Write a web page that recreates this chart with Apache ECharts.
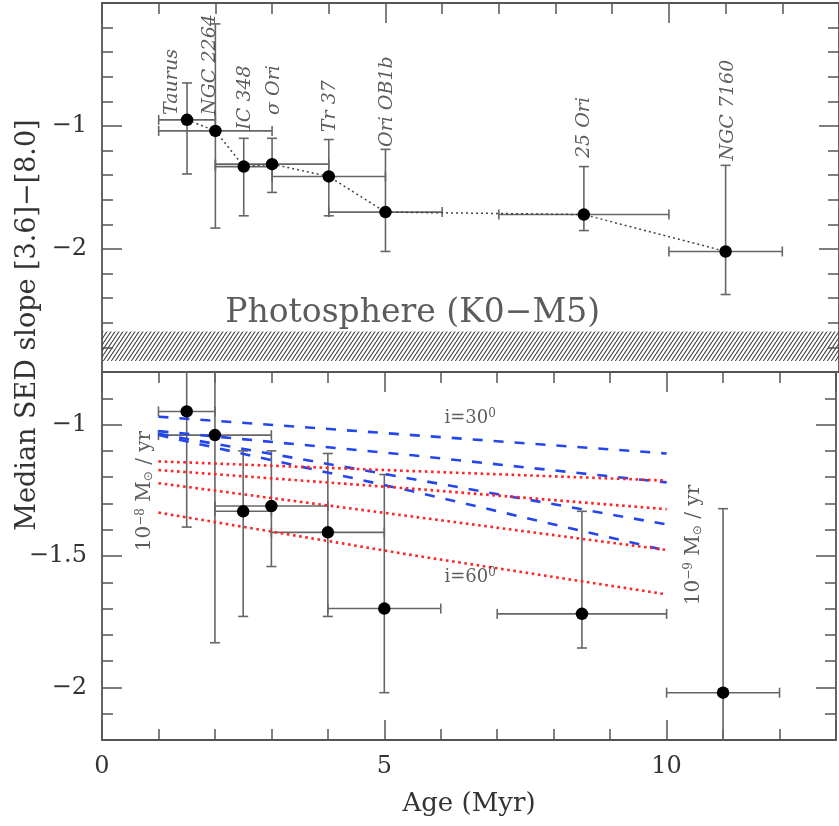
<!DOCTYPE html>
<html>
<head>
<meta charset="utf-8">
<script src="https://cdn.jsdelivr.net/npm/echarts@6/dist/echarts.min.js"></script>
<style>
html, body { margin: 0; background: #fff; }
#rory { width: 839px; height: 826px; }
</style>
</head>
<body>
<div id="rory"></div>
<script>
// clusters, ages (Myr) and median SED slopes
var clusters = ['Taurus', 'NGC 2264', 'IC 348', 'σ Ori', 'Tr 37', 'Ori OB1b', '25 Ori', 'NGC 7160'];
var age     = [1.5, 2, 2.5, 3, 4, 5, 8.5, 11];
var ageLo   = [1, 1, 2, 2, 3, 4, 7, 10];
var ageHi   = [2, 3, 3, 4, 5, 6, 10, 12];
var slope   = [-0.95, -1.04, -1.33, -1.31, -1.41, -1.70, -1.72, -2.02];
var slopeLo = [-1.39, -1.83, -1.73, -1.54, -1.73, -2.02, -1.85, -2.37];
var slopeHi = [-0.65, -0.17, -1.10, -1.10, -1.11, -1.19, -1.33, -1.32];

// where each cluster name starts (data units of the top panel)
var nameX = [1.23, 1.90, 2.53, 3.04, 4.03, 5.02, 8.51, 11.04];
var nameY = [-0.91, -0.91, -1.03, -0.91, -1.05, -1.17, -1.26, -1.28];

// photosphere band (K0-M5)
var photoBand = [-2.91, -2.67];

// disk models, lower panel
var modelAge = [1, 5.5, 10];
var dashedModels = [
    [-0.97, -1.04, -1.11],
    [-1.025, -1.117, -1.22],
    [-1.035, -1.207, -1.38],
    [-1.04, -1.254, -1.48]
];
var dottedModels = [
    [-1.14, -1.177, -1.213],
    [-1.173, -1.244, -1.322],
    [-1.223, -1.35, -1.477],
    [-1.335, -1.497, -1.646]
];

var inclText = ['i=30{s|0}', 'i=60{s|0}'];
var inclX = [6.52, 6.52];
var inclY = [-0.975, -1.58];
var rateText = ['10{s|\u22128} M{b|⊙} / yr', '10{s|\u22129} M{b|⊙} / yr'];
var rateX = [0.76, 10.48];
var rateY = [-1.253, -1.458];

var FONT = 'DejaVu Serif';
var INK = '#333';
var FRAME = '#555';

function minus(v) { return String(v).replace('-', '\u2212'); }

// hatch pattern for the photosphere band
var hatch = document.createElement('canvas');
hatch.width = 4; hatch.height = 6;
var hc = hatch.getContext('2d');
hc.strokeStyle = '#444';
hc.lineWidth = 1.1;
hc.beginPath();
hc.moveTo(-4, 6); hc.lineTo(0, 0);
hc.moveTo(0, 6); hc.lineTo(4, 0);
hc.moveTo(4, 6); hc.lineTo(8, 0);
hc.stroke();

function xAx(grid, pos, step, tickLen, line) {
    return {
        type: 'value', gridIndex: grid, position: pos, min: 0, max: 13, interval: step,
        axisLine: { show: line, onZero: false, lineStyle: { color: FRAME, width: 1.8 } },
        axisTick: { show: tickLen > 0, inside: true, length: tickLen, lineStyle: { color: FRAME, width: 1.5 } },
        axisLabel: { show: false },
        splitLine: { show: false }
    };
}

var xAxes = [
    xAx(0, 'top', 1, 11, true),
    xAx(0, 'top', 5, 20, false),
    xAx(0, 'bottom', 1, 0, true),
    xAx(1, 'top', 1, 11, true),
    xAx(1, 'top', 5, 20, false),
    xAx(1, 'bottom', 1, 11, true),
    xAx(1, 'bottom', 5, 20, false)
];
xAxes[5].axisLabel = {
    show: true, margin: 15, fontFamily: FONT, fontSize: 24, color: INK,
    formatter: function (v) { return (v === 0 || v === 5 || v === 10) ? String(v) : ''; }
};
xAxes[5].name = 'Age (Myr)';
xAxes[5].nameLocation = 'middle';
xAxes[5].nameGap = 51;
xAxes[5].nameTextStyle = { fontFamily: FONT, fontSize: 26, color: INK };

function yTop(pos, labels) {
    return {
        type: 'value', gridIndex: 0, position: pos, min: -3, max: 0, interval: 1,
        axisLine: { show: true, onZero: false, lineStyle: { color: FRAME, width: 1.8 } },
        axisTick: { show: true, inside: true, length: 20, lineStyle: { color: FRAME, width: 1.5 } },
        minorTick: { show: true, splitNumber: 5, length: 11, lineStyle: { color: FRAME, width: 1.5 } },
        axisLabel: {
            show: labels, margin: 15, fontFamily: FONT, fontSize: 24, color: INK,
            formatter: function (v) { return (v === -1 || v === -2) ? minus(v) : ''; }
        },
        splitLine: { show: false }
    };
}

function yBot(pos, major, labels) {
    var ax = {
        type: 'value', gridIndex: 1, position: pos, min: -2.2, max: -0.8, interval: 0.1,
        axisLine: { show: !major, onZero: false, lineStyle: { color: FRAME, width: 1.8 } },
        axisTick: { show: true, inside: true, length: major ? 20 : 11, lineStyle: { color: FRAME, width: 1.5 } },
        axisLabel: { show: false },
        splitLine: { show: false }
    };
    if (major) {
        ax.axisTick.customValues = [-2, -1.5, -1];
        ax.axisLabel = {
            show: labels, margin: 15, fontFamily: FONT, fontSize: 24, color: INK,
            customValues: [-2, -1.5, -1],
            formatter: function (v) {
                return Math.abs(v * 2 - Math.round(v * 2)) < 1e-6 ? minus(v) : '';
            }
        };
    }
    return ax;
}

var yAxes = [
    yTop('left', true),
    yTop('right', false),
    yBot('left', false, false),
    yBot('left', true, true),
    yBot('right', false, false),
    yBot('right', true, false)
];

var errRows = age.map(function (a, i) {
    return [a, slope[i], ageLo[i], ageHi[i], slopeLo[i], slopeHi[i]];
});

function renderErr(params, api) {
    var cs = params.coordSys;
    var top = cs.y, bot = cs.y + cs.height;
    var p = api.coord([api.value(0), api.value(1)]);
    var xl = api.coord([api.value(2), api.value(1)])[0];
    var xh = api.coord([api.value(3), api.value(1)])[0];
    var yl = api.coord([api.value(0), api.value(4)])[1];
    var yh = api.coord([api.value(0), api.value(5)])[1];
    var st = { stroke: '#666', lineWidth: 1.6 };
    var cap = 5;
    var kids = [];
    function seg(x1, y1, x2, y2) {
        kids.push({ type: 'line', shape: { x1: x1, y1: y1, x2: x2, y2: y2 }, style: st });
    }
    seg(xl, p[1], xh, p[1]);
    seg(xl, p[1] - cap, xl, p[1] + cap);
    seg(xh, p[1] - cap, xh, p[1] + cap);
    var y1 = Math.max(top, Math.min(bot, yh));
    var y2 = Math.max(top, Math.min(bot, yl));
    seg(p[0], y1, p[0], y2);
    if (yh >= top && yh <= bot) seg(p[0] - cap, yh, p[0] + cap, yh);
    if (yl >= top && yl <= bot) seg(p[0] - cap, yl, p[0] + cap, yl);
    return { type: 'group', children: kids };
}

function pts() {
    return age.map(function (a, i) { return [a, slope[i]]; });
}

var series = [];

// ---- top panel ----
series.push({
    type: 'line', xAxisIndex: 0, yAxisIndex: 0, z: 3,
    data: pts(), symbol: 'none',
    lineStyle: { color: '#444', width: 1.5, type: [2, 3] },
    markArea: {
        silent: true,
        itemStyle: { color: { image: hatch, repeat: 'repeat' }, opacity: 1 },
        data: [[{ xAxis: 0, yAxis: photoBand[1] }, { xAxis: 13, yAxis: photoBand[0] }]]
    }
});
series.push({
    type: 'custom', xAxisIndex: 0, yAxisIndex: 0, z: 2,
    renderItem: renderErr, data: errRows,
    encode: { x: [0, 2, 3], y: [1, 4, 5] }
});
series.push({
    type: 'scatter', xAxisIndex: 0, yAxisIndex: 0, z: 5,
    symbolSize: 12.5, itemStyle: { color: '#000', opacity: 1 }, data: pts()
});
series.push({
    type: 'scatter', xAxisIndex: 0, yAxisIndex: 0, z: 6,
    symbolSize: 1, itemStyle: { color: 'rgba(0,0,0,0)' },
    data: clusters.map(function (c, i) { return { name: c, value: [nameX[i], nameY[i]] }; }),
    label: {
        show: true, position: 'inside', rotate: 90, align: 'left', verticalAlign: 'middle',
        formatter: function (p) { return p.name; },
        fontFamily: FONT, fontStyle: 'italic', fontSize: 19, color: INK
    }
});
series.push({
    type: 'scatter', xAxisIndex: 0, yAxisIndex: 0, z: 6,
    symbolSize: 1, itemStyle: { color: 'rgba(0,0,0,0)' },
    data: [[5.48, -2.52]],
    label: {
        show: true, position: 'inside', align: 'center', verticalAlign: 'middle',
        formatter: 'Photosphere (K0\u2212M5)',
        fontFamily: FONT, fontSize: 33, color: INK
    }
});

// ---- bottom panel ----
dashedModels.forEach(function (m) {
    series.push({
        type: 'line', xAxisIndex: 3, yAxisIndex: 2, z: 3, symbol: 'none',
        data: modelAge.map(function (a, i) { return [a, m[i]]; }),
        lineStyle: { color: '#2446ee', width: 2.6, type: [10, 11] }
    });
});
dottedModels.forEach(function (m) {
    series.push({
        type: 'line', xAxisIndex: 3, yAxisIndex: 2, z: 3, symbol: 'none',
        data: modelAge.map(function (a, i) { return [a, m[i]]; }),
        lineStyle: { color: '#ff2424', width: 2.6, type: [2.6, 3.6] }
    });
});
series.push({
    type: 'custom', xAxisIndex: 3, yAxisIndex: 2, z: 2,
    renderItem: renderErr, data: errRows,
    encode: { x: [0, 2, 3], y: [1, 4, 5] }
});
series.push({
    type: 'scatter', xAxisIndex: 3, yAxisIndex: 2, z: 5,
    symbolSize: 12.5, itemStyle: { color: '#000', opacity: 1 }, data: pts()
});
var richSub = {
    s: { fontFamily: FONT, fontSize: 12, color: INK, padding: [0, 0, 9, 0] },
    b: { fontFamily: 'DejaVu Sans', fontSize: 12, color: INK, padding: [8, 0, 0, 0] }
};
series.push({
    type: 'scatter', xAxisIndex: 3, yAxisIndex: 2, z: 6,
    symbolSize: 1, itemStyle: { color: 'rgba(0,0,0,0)' },
    data: inclText.map(function (t, i) { return { name: t, value: [inclX[i], inclY[i]] }; }),
    label: {
        show: true, position: 'inside', align: 'center', verticalAlign: 'middle',
        formatter: function (p) { return p.name; },
        fontFamily: FONT, fontSize: 18, color: INK, rich: richSub
    }
});
series.push({
    type: 'scatter', xAxisIndex: 3, yAxisIndex: 2, z: 6,
    symbolSize: 1, itemStyle: { color: 'rgba(0,0,0,0)' },
    data: rateText.map(function (t, i) { return { name: t, value: [rateX[i], rateY[i]] }; }),
    label: {
        show: true, position: 'inside', rotate: 90, align: 'center', verticalAlign: 'middle',
        formatter: function (p) { return p.name; },
        fontFamily: FONT, fontSize: 20, color: INK, rich: richSub
    }
});

var chart = echarts.init(document.getElementById('rory'));
chart.setOption({
    animation: false,
    backgroundColor: '#fff',
    grid: [
        { left: 102, top: 3, width: 740, height: 369 },
        { left: 102, top: 372, width: 740, height: 368 }
    ],
    xAxis: xAxes,
    yAxis: yAxes,
    graphic: [{
        type: 'text', x: 28, y: 325, rotation: Math.PI / 2, silent: true,
        style: {
            text: 'Median SED slope [3.6]\u2212[8.0]', fill: INK,
            font: '27px "DejaVu Serif"', textAlign: 'center', textVerticalAlign: 'middle'
        }
    }],
    series: series
});
</script>
</body>
</html>
